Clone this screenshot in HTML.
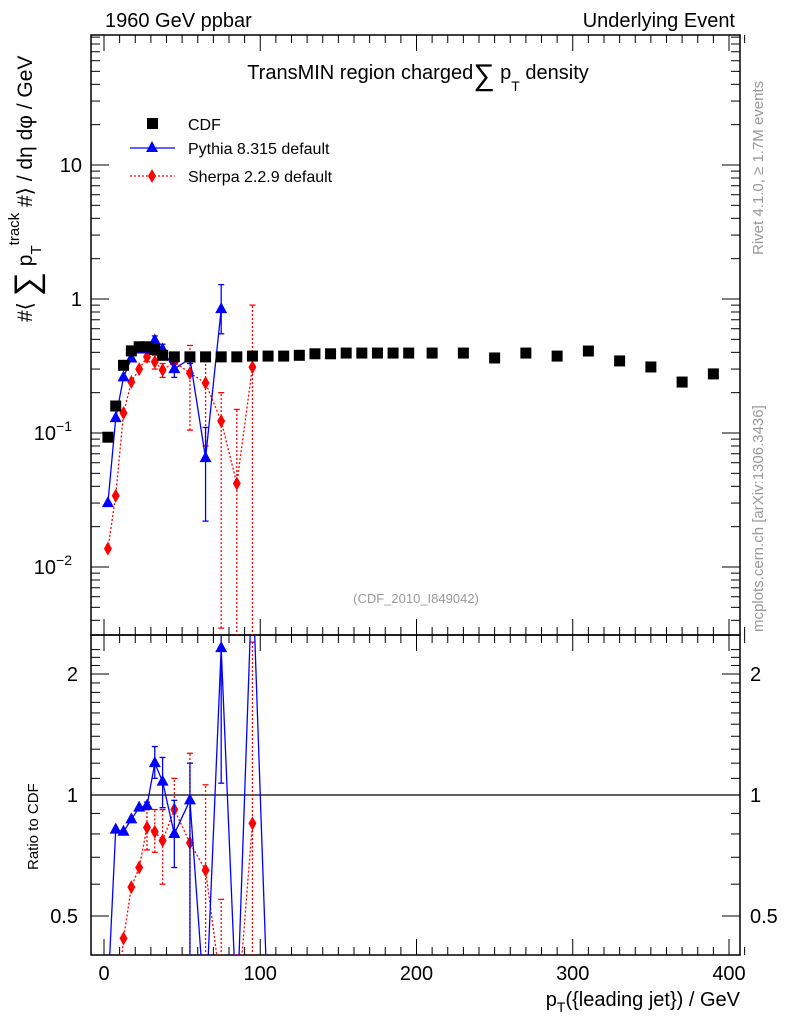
<!DOCTYPE html>
<html><head><meta charset="utf-8"><style>
html,body{margin:0;padding:0;background:#fff;overflow:hidden;width:786px;height:1024px;}
svg{display:block;font-family:"Liberation Sans","DejaVu Sans",sans-serif;}
</style></head><body>
<svg id="chart" width="786" height="1024" xmlns="http://www.w3.org/2000/svg">
<defs>
<clipPath id="clipMain"><rect x="91" y="35" width="649" height="600"/></clipPath>
<clipPath id="clipRatio"><rect x="91" y="635" width="649" height="320"/></clipPath>
</defs>
<g id="frame"></g>
<g id="marks"></g>
<text x="105" y="27" font-size="20">1960 GeV ppbar</text>
<text x="735" y="27" font-size="20" text-anchor="end">Underlying Event</text>
<text x="418" y="79" font-size="20" text-anchor="middle">TransMIN region charged<tspan font-size="30" dy="6">∑</tspan><tspan dy="-6"> p</tspan><tspan font-size="14" dy="12">T</tspan><tspan dy="-12"> density</tspan></text>
<text x="416" y="603" font-size="13" fill="#999" text-anchor="middle">(CDF_2010_I849042)</text>
<text transform="translate(763,255) rotate(-90)" font-size="15" fill="#999">Rivet 4.1.0, ≥ 1.7M events</text>
<text transform="translate(763,632) rotate(-90)" font-size="15" fill="#999">mcplots.cern.ch [arXiv:1306.3436]</text>
<text transform="translate(32,322) rotate(-90)" font-size="21">#⟨ <tspan font-size="34" dy="6">∑</tspan><tspan dy="-6"> p</tspan><tspan font-size="15" dy="9">T</tspan><tspan font-size="15" dy="-22">track</tspan><tspan dy="13"> #⟩ / dη dφ / GeV</tspan></text>
<text transform="translate(38,870) rotate(-90)" font-size="15">Ratio to CDF</text>
<text x="740" y="1006" font-size="20" text-anchor="end">p<tspan font-size="14" dy="6">T</tspan><tspan dy="-6">({leading jet}) / GeV</tspan></text>
<g id="legend">
<rect x="147" y="118" width="11" height="11" fill="#000"/>
<text x="188" y="130" font-size="16">CDF</text>
<line x1="130" y1="148" x2="175" y2="148" stroke="#00f" stroke-width="1.3"/>
<polygon points="152,141 158,152 146,152" fill="#00f"/>
<text x="188" y="154" font-size="16">Pythia 8.315 default</text>
<line x1="130" y1="176" x2="175" y2="176" stroke="#f00" stroke-width="1.3" stroke-dasharray="2,2"/>
<polygon points="152,169 156,176 152,183 148,176" fill="#f00"/>
<text x="188" y="182" font-size="16">Sherpa 2.2.9 default</text>
</g>
</svg>
<script>
const cdfX=[2.5,7.5,12.5,17.5,22.5,27.5,32.5,37.5,45,55,65,75,85,95,105,115,125,135,145,155,165,175,185,195,210,230,250,270,290,310,330,350,370,390];
const cdfY=[0.093,0.159,0.32,0.41,0.44,0.44,0.42,0.38,0.37,0.37,0.37,0.37,0.37,0.375,0.375,0.375,0.38,0.39,0.39,0.395,0.395,0.395,0.395,0.395,0.395,0.395,0.363,0.395,0.375,0.409,0.345,0.311,0.24,0.276];
const pyX=[2.5,7.5,12.5,17.5,22.5,27.5,32.5,37.5,45,55,65,75];
const pyY=[0.030,0.129,0.26,0.36,0.42,0.42,0.49,0.42,0.30,0.36,0.065,0.84];
const pyLo=[0.030,0.129,0.26,0.36,0.42,0.42,0.45,0.38,0.26,0.33,0.022,0.55];
const pyHi=[0.030,0.129,0.26,0.36,0.42,0.42,0.53,0.46,0.33,0.40,0.11,1.28];
const shX=[2.5,7.5,12.5,17.5,22.5,27.5,32.5,37.5,45,55,65,75,85,95];
const shY=[0.0137,0.034,0.141,0.24,0.30,0.37,0.34,0.295,0.34,0.28,0.236,0.123,0.042,0.31];
const shLo=[0.0137,0.034,0.141,0.24,0.30,0.34,0.30,0.26,0.30,0.105,0.08,0.0035,0.001,0.001];
const shHi=[0.0137,0.034,0.141,0.24,0.30,0.40,0.38,0.33,0.40,0.45,0.40,0.20,0.15,0.9];
const rPyX=[2.5,7.5,12.5,17.5,22.5,27.5,32.5,37.5,45,55,65,75,85,95,105];
const rPy=[0.32,0.82,0.81,0.87,0.93,0.94,1.20,1.08,0.80,0.97,0.18,2.32,0.01,5,0.01];
const rPyLo=[0.32,0.82,0.81,0.87,0.93,0.92,1.10,0.93,0.66,0.3,0.06,1.07,0.01,5,0.01];
const rPyHi=[0.32,0.82,0.81,0.87,0.93,0.96,1.32,1.24,0.97,1.2,0.3,4,0.01,5,0.01];
const rShX=[2.5,7.5,12.5,17.5,22.5,27.5,32.5,37.5,45,55,65,75,85,95];
const rSh=[0.15,0.21,0.44,0.59,0.66,0.83,0.81,0.77,0.92,0.76,0.65,0.33,0.11,0.85];
const rShLo=[0.15,0.21,0.44,0.59,0.66,0.73,0.72,0.6,0.8,0.2,0.2,0.01,0.01,0.01];
const rShHi=[0.15,0.21,0.44,0.59,0.66,0.92,0.92,0.92,1.1,1.27,1.06,0.55,0.4,2.4];
const ratioTicks=["2","1","0.5"];
const xTicks=["0","100","200","300","400"];

const NS="http://www.w3.org/2000/svg";
const sx=v=>104+v*1.5625;
const sy=v=>Math.min(700,Math.max(0,299-134*Math.log10(v)));
const ry=v=>Math.min(1020,Math.max(570,795-402*Math.log10(v)));
const frame=document.getElementById('frame');
const marks=document.getElementById('marks');
function mk(tag,attrs,parent){const e=document.createElementNS(NS,tag);for(const k in attrs)e.setAttribute(k,attrs[k]);(parent||marks).appendChild(e);return e;}
let r1=mk('rect',{x:91,y:35,width:649,height:600,fill:'none',stroke:'#000','stroke-width':1.5},frame);


let r2=mk('rect',{x:91,y:635,width:649,height:320,fill:'none',stroke:'#000','stroke-width':1.5},frame);


for(let v=0;v<=410;v+=10){
  const L=(v%100===0)?16:8;const x=sx(v);
  [[35,1],[635,-1],[635,1],[955,-1]].forEach(([y0,d])=>mk('line',{x1:x,x2:x,y1:y0,y2:y0+d*L,stroke:'#000'},frame));
}
xTicks.forEach((t,i)=>{const e=mk('text',{x:sx(i*100),y:980,'font-size':20,'text-anchor':'middle'},frame);e.textContent=t;

});
for(let d=-3;d<=2;d++){for(let m=1;m<10;m++){const v=m*Math.pow(10,d);const y=299-134*Math.log10(v);if(y<35||y>635)continue;const L=m===1?18:9;
mk('line',{x1:91,x2:91+L,y1:y,y2:y,stroke:'#000'},frame);mk('line',{x1:740,x2:740-L,y1:y,y2:y,stroke:'#000'},frame);}}
[[10,"10",""],[1,"1",""],[0.1,"10","−1"],[0.01,"10","−2"]].forEach(([v,b,e])=>{const t=mk('text',{x:e?72:82,y:sy(v)+7,'font-size':20,'text-anchor':'end'},frame);
t.textContent=b;if(e){const s=mk('tspan',{'font-size':14,dy:-9},t);s.textContent=e;}

});
[0.4,0.5,0.6,0.7,0.8,0.9,1,1.1,1.2,1.3,1.4,1.5,1.6,1.7,1.8,1.9,2,2.1,2.2,2.3].forEach(v=>{const y=ry(v);if(y<635||y>955)return;const L=[0.5,1,2].includes(v)?18:9;
mk('line',{x1:91,x2:91+L,y1:y,y2:y,stroke:'#000'},frame);mk('line',{x1:740,x2:740-L,y1:y,y2:y,stroke:'#000'},frame);});
[2,1,0.5].forEach((v,i)=>{const a=mk('text',{x:78,y:ry(v)+7,'font-size':20,'text-anchor':'end'},frame);a.textContent=ratioTicks[i];


const b=mk('text',{x:750,y:ry(v)+7,'font-size':20},frame);b.textContent=ratioTicks[i];

});
mk('line',{x1:91,x2:740,y1:ry(1),y2:ry(1),stroke:'#000','stroke-width':1.3},frame);

function series(X,Y,LO,HI,fy,col,dash,shape,clip,name){
  const g=mk('g',{'clip-path':`url(#${clip})`});
  
  
  if(col){
    mk('polyline',{points:X.map((x,i)=>sx(x)+','+fy(Y[i])).join(' '),fill:'none',stroke:col,'stroke-width':1.3,'stroke-dasharray':dash||'none'},g);
    X.forEach((x,i)=>{if(LO[i]!==HI[i]){mk('line',{x1:sx(x),x2:sx(x),y1:fy(LO[i]),y2:fy(HI[i]),stroke:col,'stroke-width':1.3,'stroke-dasharray':dash||'none'},g);
      [LO[i],HI[i]].forEach(v=>mk('line',{x1:sx(x)-3,x2:sx(x)+3,y1:fy(v),y2:fy(v),stroke:col,'stroke-width':1.3},g));}});
  }
  X.forEach((x,i)=>{const cx=sx(x),cy=fy(Y[i]);let m;
    if(shape==='sq')m=mk('rect',{x:cx-5.5,y:cy-5.5,width:11,height:11,fill:'#000'},g);
    else if(shape==='tri')m=mk('polygon',{points:`${cx},${cy-7} ${cx+6},${cy+4} ${cx-6},${cy+4}`,fill:'#00f'},g);
    else m=mk('polygon',{points:`${cx},${cy-7} ${cx+4},${cy} ${cx},${cy+7} ${cx-4},${cy}`,fill:'#f00'},g);
    
    });
}
series(shX,shY,shLo,shHi,sy,'#f00','2,2','dia','clipMain','sherpa-series');
series(pyX,pyY,pyLo,pyHi,sy,'#00f',null,'tri','clipMain','pythia-series');
series(cdfX,cdfY,cdfY,cdfY,sy,null,null,'sq','clipMain','cdf-series');
series(rShX,rSh,rShLo,rShHi,ry,'#f00','2,2','dia','clipRatio','sherpa-ratio');
series(rPyX,rPy,rPyLo,rPyHi,ry,'#00f',null,'tri','clipRatio','pythia-ratio');
</script>
</body></html>
